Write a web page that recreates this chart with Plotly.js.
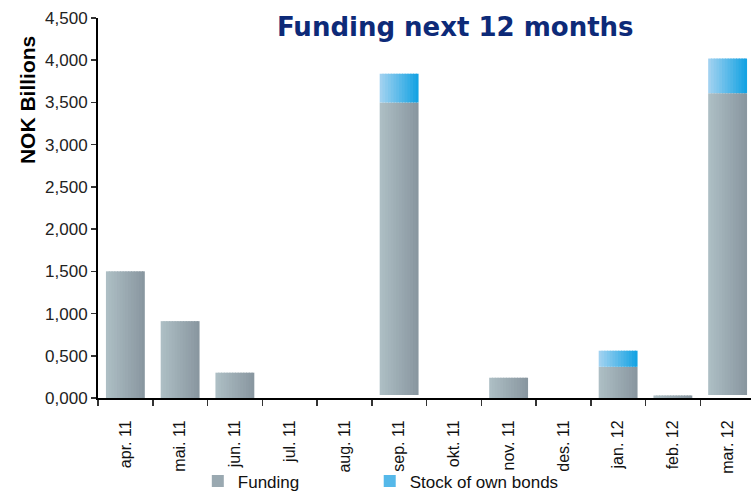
<!DOCTYPE html>
<html>
<head>
<meta charset="utf-8">
<script src="https://cdn.plot.ly/plotly-3.0.1.min.js"></script>
<style>
html,body{margin:0;padding:0;overflow:hidden;background:#fff;}
#chart{width:755px;height:491px;}
</style>
</head>
<body>
<div id="chart"></div>
<script>
// ---- data (NOK billions) ----
const categories = ['apr. 11','mai. 11','jun. 11','jul. 11','aug. 11','sep. 11','okt. 11','nov. 11','des. 11','jan. 12','feb. 12','mar. 12'];
const funding     = [1.50, 0.91, 0.30, 0, 0, 3.50, 0, 0.24, 0, 0.37, 0.03, 3.61];
const fundingBase = [0, 0, 0, 0, 0, 0.035, 0, 0, 0, 0, 0, 0.035];
const stock       = [0, 0, 0, 0, 0, 0.34, 0, 0, 0, 0.19, 0, 0.41];
const yTickVals = [0, 0.5, 1, 1.5, 2, 2.5, 3, 3.5, 4, 4.5];
const yTickText = ['0,000','0,500','1,000','1,500','2,000','2,500','3,000','3,500','4,000','4,500'];
const seriesNames = ['Funding', 'Stock of own bonds'];

// ---- styling ----
const BAR_W = 0.71;
const SLICES = 14;
const fundingGrad = [[174,191,197],[136,149,159]];
const stockGrad   = [[165,211,240],[16,161,226]];
function lerpColor(g, t){
  const c = g[0].map((v,i)=>Math.round(v + (g[1][i]-v)*t));
  return 'rgb(' + c.join(',') + ')';
}

const traces = [];
const fundingHeights = funding.map((v,i)=>v - fundingBase[i]);
function addSeries(name, heights, bases, grad, legendId){
  const sw = BAR_W / SLICES;
  for (let s = 0; s < SLICES; s++){
    const t = (s + 0.5) / SLICES;
    const last = s === SLICES - 1;
    traces.push({
      type: 'bar',
      name: name,
      legend: legendId,
      legendgroup: name,
      showlegend: s === Math.floor(SLICES/2),
      x: categories,
      y: heights,
      base: bases,
      width: last ? sw : sw + 0.02,
      offset: -BAR_W/2 + s * sw,
      marker: {color: lerpColor(grad, t), line: {width: 0}},
      hoverinfo: 'skip'
    });
  }
}
addSeries(seriesNames[0], fundingHeights, fundingBase, fundingGrad, 'legend');
addSeries(seriesNames[1], stock, funding, stockGrad, 'legend2');

const legendCommon = {
  orientation: 'h',
  xanchor: 'left',
  yref: 'container', y: 0.056, yanchor: 'top',
  font: {size: 17, color: '#111'},
  bgcolor: 'rgba(0,0,0,0)'
};

const layout = {
  width: 755,
  height: 491,
  margin: {l: 98, r: 0, t: 18, b: 93},
  paper_bgcolor: '#ffffff',
  plot_bgcolor: '#ffffff',
  barmode: 'overlay',
  font: {family: 'Liberation Sans, Arial, sans-serif', color: '#111'},
  title: {
    text: '<b>Funding next 12 months</b>',
    font: {family: 'DejaVu Sans, Verdana, sans-serif', size: 26, color: '#0d2a78'},
    xref: 'container', x: 0.603, xanchor: 'center',
    yref: 'container', y: 0.945, yanchor: 'middle'
  },
  xaxis: {
    type: 'category',
    range: [-0.5, 11.5],
    tickson: 'boundaries',
    ticks: 'outside', ticklen: 6, tickwidth: 1.5, tickcolor: '#333',
    showline: true, linecolor: '#000', linewidth: 2,
    showgrid: false, zeroline: false,
    tickangle: -90,
    ticklabelstandoff: 14,
    tickfont: {size: 16, color: '#111'},
    fixedrange: true
  },
  yaxis: {
    range: [0, 4.5],
    tickvals: yTickVals,
    ticktext: yTickText,
    ticks: 'outside', ticklen: 5, tickwidth: 1.5, tickcolor: '#333',
    showline: true, linecolor: '#000', linewidth: 2,
    showgrid: false, zeroline: false,
    tickfont: {size: 17, color: '#222'},
    fixedrange: true
  },
  annotations: [{
    text: '<b>NOK Billions</b>',
    textangle: -90,
    xref: 'paper', x: -0.108, xanchor: 'center',
    yref: 'paper', y: 0.784, yanchor: 'middle',
    showarrow: false,
    font: {size: 21, color: '#000'}
  }],
  legend: Object.assign({}, legendCommon, {xref: 'container', x: 0.262}),
  legend2: Object.assign({}, legendCommon, {xref: 'container', x: 0.4897}),
  showlegend: true
};

Plotly.newPlot('chart', traces, layout, {displayModeBar: false, staticPlot: true});
</script>
</body>
</html>
